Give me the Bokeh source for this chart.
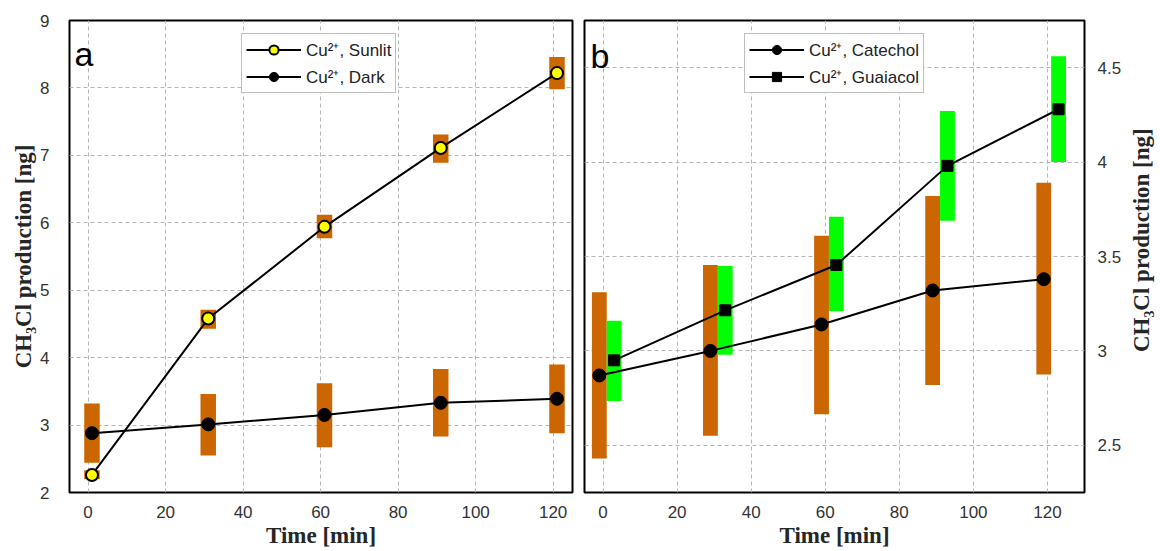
import math
from bokeh.plotting import figure
from bokeh.layouts import row
from bokeh.models import Range1d, FixedTicker, Legend, LegendItem, Label
from bokeh.embed import file_html
from bokeh.resources import INLINE

# ---- data, panel a ----
time_a = [1, 31, 61, 91, 121]
sunlit = [2.26, 4.58, 5.94, 7.11, 8.22]
sunlit_lo = [2.20, 4.43, 5.77, 6.89, 7.98]
sunlit_hi = [2.33, 4.71, 6.12, 7.31, 8.46]
dark = [2.88, 3.01, 3.15, 3.33, 3.39]
dark_lo = [2.44, 2.55, 2.67, 2.83, 2.88]
dark_hi = [3.32, 3.46, 3.62, 3.83, 3.90]

# ---- data, panel b ----
time_cat = [-1, 29, 59, 89, 119]
catechol = [2.87, 3.00, 3.14, 3.32, 3.38]
catechol_lo = [2.43, 2.55, 2.665, 2.82, 2.875]
catechol_hi = [3.31, 3.455, 3.61, 3.82, 3.89]
time_gua = [3, 33, 63, 93, 123]
guaiacol = [2.95, 3.215, 3.455, 3.98, 4.28]
guaiacol_lo = [2.735, 2.98, 3.21, 3.69, 4.00]
guaiacol_hi = [3.16, 3.45, 3.71, 4.27, 4.56]

x_ticks = [0, 20, 40, 60, 80, 100, 120]
y_ticks_a = [2, 3, 4, 5, 6, 7, 8, 9]
y_ticks_b = [2.5, 3, 3.5, 4, 4.5]

ORANGE = "#CC6600"
GREEN = "#00FF00"
SANS = "Liberation Sans"
SERIF = "Liberation Serif"
YLABEL = "CH\u2083Cl production [ng]"
H = 550


def style(p):
    p.outline_line_color = "black"
    p.outline_line_width = 2
    p.outline_line_alpha = 1
    p.background_fill_color = "white"
    p.border_fill_color = "white"
    for ax in p.axis:
        ax.axis_line_color = None
        ax.major_tick_line_color = None
        ax.minor_tick_line_color = None
        ax.major_label_text_font = SANS
        ax.major_label_text_font_size = "17px"
        ax.major_label_text_color = "#333333"
        ax.axis_label_text_font = SERIF
        ax.axis_label_text_font_style = "bold"
        ax.axis_label_text_font_size = "23px"
        ax.axis_label_text_color = "#262626"
    for g in p.grid:
        g.grid_line_color = "#b5b5b5"
        g.grid_line_dash = "4 3"
        g.grid_line_width = 1
    p.xaxis.ticker = FixedTicker(ticks=x_ticks)
    p.xaxis.major_label_standoff = 7
    p.xaxis.axis_label = "Time [min]"
    p.xaxis.axis_label_standoff = 2


def style_legend(leg, loc):
    leg.location = loc
    leg.label_text_font = SANS
    leg.label_text_font_size = "17px"
    leg.label_text_color = "#222222"
    leg.glyph_width = 55
    leg.glyph_height = 23
    leg.label_height = 23
    leg.label_standoff = 5
    leg.spacing = 4
    leg.padding = 4
    leg.margin = 0
    leg.border_line_color = "#7f7f7f"
    leg.border_line_width = 1
    leg.background_fill_color = "white"
    leg.background_fill_alpha = 1


# ---------------- panel a ----------------
p1 = figure(width=578, height=H, output_backend="svg", toolbar_location=None,
            x_range=Range1d(-4.8, 125), y_range=Range1d(2, 9),
            min_border_left=69, min_border_right=6, min_border_top=20, min_border_bottom=58)
style(p1)
p1.yaxis.ticker = FixedTicker(ticks=y_ticks_a)
p1.yaxis.major_label_standoff = 14
p1.yaxis.axis_label = YLABEL
p1.yaxis.axis_label_standoff = 1

p1.vbar(x=time_a, width=4, bottom=dark_lo, top=dark_hi, fill_color=ORANGE, line_color=None)
p1.vbar(x=time_a, width=4, bottom=sunlit_lo, top=sunlit_hi, fill_color=ORANGE, line_color=None)
l_sun = p1.line(time_a, sunlit, line_color="black", line_width=2)
l_dark = p1.line(time_a, dark, line_color="black", line_width=2)
m_dark = p1.scatter(time_a, dark, marker="circle", size=13, fill_color="black", line_color="black")
m_sun = p1.scatter(time_a, sunlit, marker="circle", size=12, fill_color="#FFFF00",
                   line_color="black", line_width=2)

leg1 = Legend(items=[
    LegendItem(label="Cu\u00b2\u207a, Sunlit", renderers=[l_sun, m_sun]),
    LegendItem(label="Cu\u00b2\u207a, Dark", renderers=[l_dark, m_dark]),
])
style_legend(leg1, (172, 399))
p1.add_layout(leg1)

p1.add_layout(Label(x=5, y=439, x_units="screen", y_units="screen", text="a",
                    text_font=SANS, text_font_size="34px", text_color="black",
                    text_baseline="alphabetic"))

# ---------------- panel b ----------------
p2 = figure(width=546, height=H, output_backend="svg", toolbar_location=None,
            x_range=Range1d(-5, 130), y_range=Range1d(2.25, 4.75), y_axis_location="right",
            min_border_left=6, min_border_right=36, min_border_top=20, min_border_bottom=58)
style(p2)
p2.yaxis.ticker = FixedTicker(ticks=y_ticks_b)
p2.yaxis.major_label_standoff = 7

p2.vbar(x=time_cat, width=4, bottom=catechol_lo, top=catechol_hi, fill_color=ORANGE, line_color=None)
p2.vbar(x=time_gua, width=4, bottom=guaiacol_lo, top=guaiacol_hi, fill_color=GREEN, line_color=None)
l_cat = p2.line(time_cat, catechol, line_color="black", line_width=2)
l_gua = p2.line(time_gua, guaiacol, line_color="black", line_width=2)
m_cat = p2.scatter(time_cat, catechol, marker="circle", size=13, fill_color="black", line_color="black")
m_gua = p2.scatter(time_gua, guaiacol, marker="square", size=11, fill_color="black", line_color="black")

leg2 = Legend(items=[
    LegendItem(label="Cu\u00b2\u207a, Catechol", renderers=[l_cat, m_cat]),
    LegendItem(label="Cu\u00b2\u207a, Guaiacol", renderers=[l_gua, m_gua]),
])
style_legend(leg2, (160, 399))
p2.add_layout(leg2)

p2.add_layout(Label(x=6, y=437, x_units="screen", y_units="screen", text="b",
                    text_font=SANS, text_font_size="34px", text_color="black",
                    text_baseline="alphabetic"))

# ---------------- right-hand axis title (reads bottom to top) ----------------
p3 = figure(width=34, height=H, output_backend="svg", toolbar_location=None,
            x_range=Range1d(0, 34), y_range=Range1d(0, H),
            x_axis_location=None, y_axis_location=None, min_border=0)
p3.outline_line_color = None
p3.grid.visible = False
p3.background_fill_color = "white"
p3.border_fill_color = "white"
p3.add_layout(Label(x=17, y=H - 256, text=YLABEL, angle=math.pi / 2,
                    text_align="center", text_baseline="middle",
                    text_font=SERIF, text_font_style="bold", text_font_size="23px",
                    text_color="#262626"))

layout = row(p1, p2, p3)
open("out.html", "w").write(file_html(layout, INLINE))
